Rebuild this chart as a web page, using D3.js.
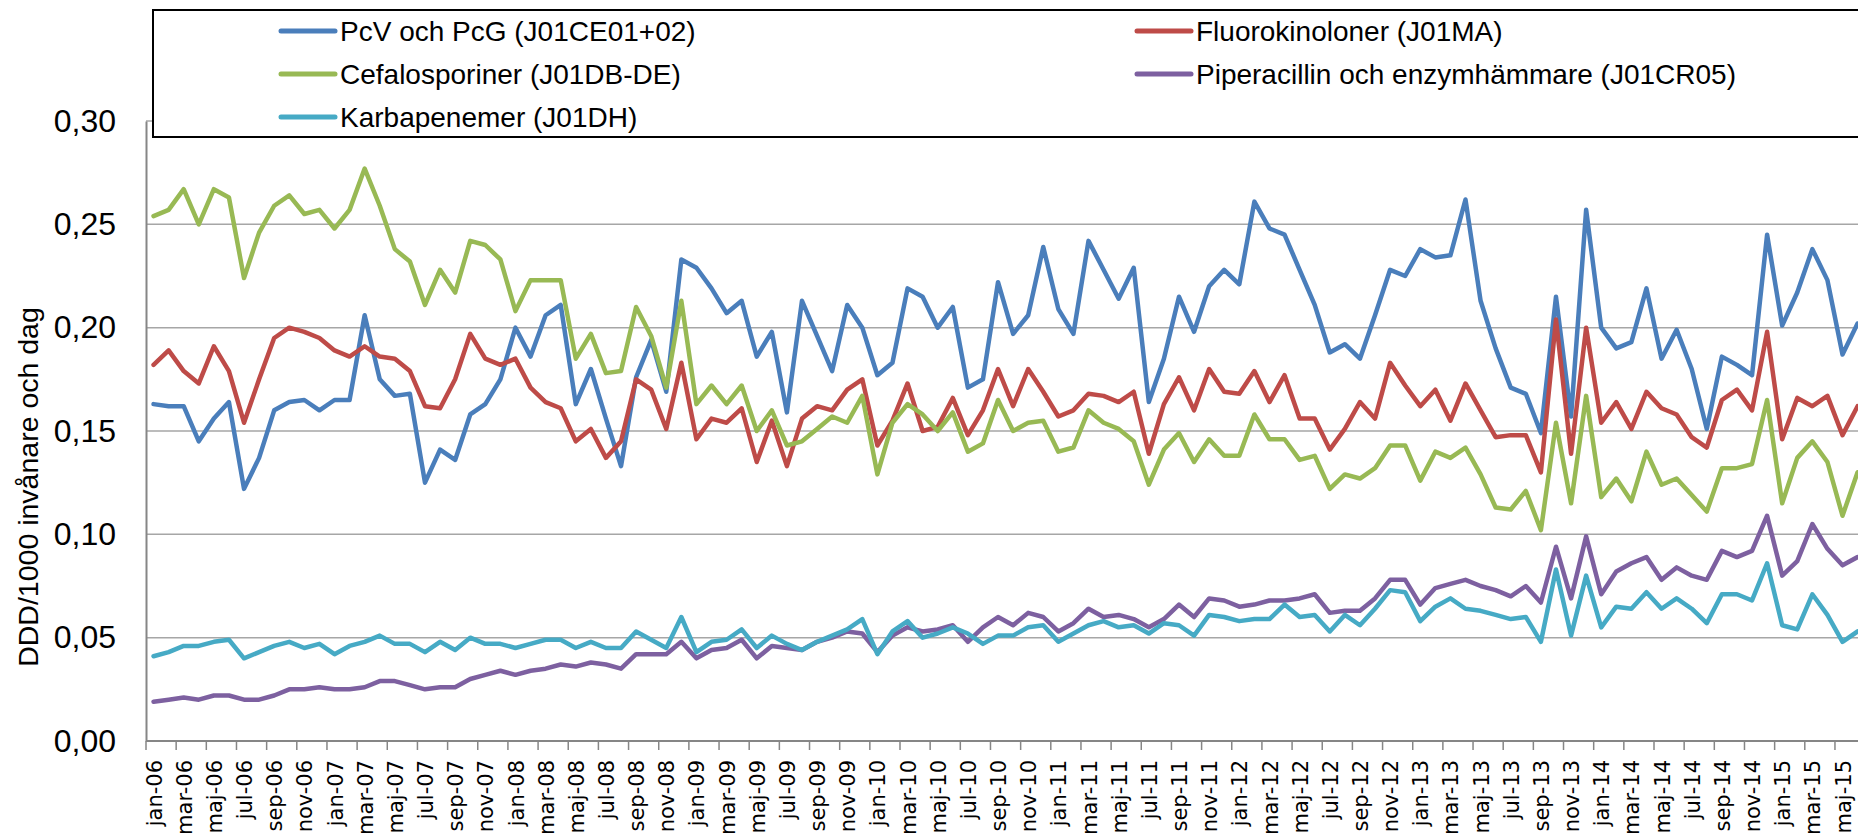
<!DOCTYPE html>
<html lang="sv">
  <head>
    <meta charset="UTF-8" />
    <title>DDD/1000 invånare och dag</title>
    <style>
      body {
        margin: 0;
        background: #fff;
      }
      svg {
        display: block;
      }
    </style>
  </head>
  <body>
    <svg id="svg" width="1858" height="833"></svg>
    <script src="https://cdn.jsdelivr.net/npm/d3@7"></script>
    <script>
      // CONSTANTS
      const WIDTH = 1858;
      const HEIGHT = 833;
      const PLOT_LEFT = 146;
      const STEP = 15.08;
      const PLOT_BOTTOM = 741;
      const PLOT_TOP = 121;

      // categories
      const monthNames = ["jan", "feb", "mar", "apr", "maj", "jun", "jul", "aug", "sep", "okt", "nov", "dec"];
      const years = ["06", "07", "08", "09", "10", "11", "12", "13", "14", "15"];
      const months = [];
      years.forEach((yy) => monthNames.forEach((m) => months.push(`${m}-${yy}`)));
      months.length = 114; // jan-06 .. jun-15 (right part is cut off)

      const yTicks = [0, 0.05, 0.1, 0.15, 0.2, 0.25, 0.3];

      // series values
      const pcv = [
        0.163, 0.162, 0.162, 0.145, 0.156, 0.164, 0.122, 0.137, 0.160, 0.164, 0.165, 0.160, 0.165, 0.165, 0.206, 0.175, 0.167, 0.168, 0.125, 0.141, 0.136, 0.158, 0.163, 0.175, 0.200, 0.186, 0.206, 0.211, 0.163,
        0.180, 0.156, 0.133, 0.176, 0.194, 0.169, 0.233, 0.229, 0.219, 0.207, 0.213, 0.186, 0.198, 0.159, 0.213, 0.196, 0.179, 0.211, 0.200, 0.177, 0.183, 0.219, 0.215, 0.200, 0.210, 0.171, 0.175, 0.222,
        0.197, 0.206, 0.239, 0.209, 0.197, 0.242, 0.228, 0.214, 0.229, 0.164, 0.185, 0.215, 0.198, 0.220, 0.228, 0.221, 0.261, 0.248, 0.245, 0.228, 0.211, 0.188, 0.192, 0.185, 0.206, 0.228, 0.225, 0.238, 0.234,
        0.235, 0.262, 0.213, 0.190, 0.171, 0.168, 0.149, 0.215, 0.157, 0.257, 0.200, 0.190, 0.193, 0.219, 0.185, 0.199, 0.180, 0.151, 0.186, 0.182, 0.177, 0.245, 0.201, 0.217, 0.238, 0.223, 0.187, 0.202,
      ];
      const fluoro = [
        0.182, 0.189, 0.179, 0.173, 0.191, 0.179, 0.154, 0.175, 0.195, 0.200, 0.198, 0.195, 0.189, 0.186, 0.191, 0.186, 0.185, 0.179, 0.162, 0.161, 0.175, 0.197, 0.185, 0.182, 0.185, 0.171, 0.164, 0.161, 0.145,
        0.151, 0.137, 0.145, 0.175, 0.170, 0.151, 0.183, 0.146, 0.156, 0.154, 0.161, 0.135, 0.155, 0.133, 0.156, 0.162, 0.160, 0.170, 0.175, 0.143, 0.155, 0.173, 0.150, 0.152, 0.166, 0.148, 0.160, 0.180,
        0.162, 0.180, 0.169, 0.157, 0.160, 0.168, 0.167, 0.164, 0.169, 0.139, 0.163, 0.176, 0.160, 0.180, 0.169, 0.168, 0.179, 0.164, 0.177, 0.156, 0.156, 0.141, 0.151, 0.164, 0.156, 0.183, 0.172, 0.162, 0.170,
        0.155, 0.173, 0.160, 0.147, 0.148, 0.148, 0.130, 0.204, 0.139, 0.200, 0.154, 0.164, 0.151, 0.169, 0.161, 0.158, 0.147, 0.142, 0.165, 0.170, 0.160, 0.198, 0.146, 0.166, 0.162, 0.167, 0.148, 0.162,
      ];
      const cefalo = [
        0.254, 0.257, 0.267, 0.250, 0.267, 0.263, 0.224, 0.246, 0.259, 0.264, 0.255, 0.257, 0.248, 0.257, 0.277, 0.259, 0.238, 0.232, 0.211, 0.228, 0.217, 0.242, 0.240, 0.233, 0.208, 0.223, 0.223, 0.223, 0.185,
        0.197, 0.178, 0.179, 0.210, 0.196, 0.171, 0.213, 0.163, 0.172, 0.163, 0.172, 0.150, 0.160, 0.143, 0.145, 0.151, 0.157, 0.154, 0.167, 0.129, 0.154, 0.163, 0.158, 0.150, 0.159, 0.140, 0.144, 0.165,
        0.150, 0.154, 0.155, 0.140, 0.142, 0.160, 0.154, 0.151, 0.145, 0.124, 0.141, 0.149, 0.135, 0.146, 0.138, 0.138, 0.158, 0.146, 0.146, 0.136, 0.138, 0.122, 0.129, 0.127, 0.132, 0.143, 0.143, 0.126, 0.140,
        0.137, 0.142, 0.129, 0.113, 0.112, 0.121, 0.102, 0.154, 0.115, 0.167, 0.118, 0.127, 0.116, 0.140, 0.124, 0.127, 0.119, 0.111, 0.132, 0.132, 0.134, 0.165, 0.115, 0.137, 0.145, 0.135, 0.109, 0.130,
      ];
      const pipera = [
        0.019, 0.020, 0.021, 0.020, 0.022, 0.022, 0.020, 0.020, 0.022, 0.025, 0.025, 0.026, 0.025, 0.025, 0.026, 0.029, 0.029, 0.027, 0.025, 0.026, 0.026, 0.030, 0.032, 0.034, 0.032, 0.034, 0.035, 0.037, 0.036,
        0.038, 0.037, 0.035, 0.042, 0.042, 0.042, 0.048, 0.040, 0.044, 0.045, 0.049, 0.040, 0.046, 0.045, 0.044, 0.048, 0.050, 0.053, 0.052, 0.043, 0.051, 0.055, 0.053, 0.054, 0.056, 0.048, 0.055, 0.060,
        0.056, 0.062, 0.060, 0.053, 0.057, 0.064, 0.060, 0.061, 0.059, 0.055, 0.059, 0.066, 0.060, 0.069, 0.068, 0.065, 0.066, 0.068, 0.068, 0.069, 0.071, 0.062, 0.063, 0.063, 0.069, 0.078, 0.078, 0.066, 0.074,
        0.076, 0.078, 0.075, 0.073, 0.070, 0.075, 0.067, 0.094, 0.069, 0.099, 0.071, 0.082, 0.086, 0.089, 0.078, 0.084, 0.080, 0.078, 0.092, 0.089, 0.092, 0.109, 0.080, 0.087, 0.105, 0.093, 0.085, 0.089,
      ];
      const karba = [
        0.041, 0.043, 0.046, 0.046, 0.048, 0.049, 0.040, 0.043, 0.046, 0.048, 0.045, 0.047, 0.042, 0.046, 0.048, 0.051, 0.047, 0.047, 0.043, 0.048, 0.044, 0.050, 0.047, 0.047, 0.045, 0.047, 0.049, 0.049, 0.045,
        0.048, 0.045, 0.045, 0.053, 0.049, 0.045, 0.060, 0.043, 0.048, 0.049, 0.054, 0.045, 0.051, 0.047, 0.044, 0.048, 0.051, 0.054, 0.059, 0.042, 0.053, 0.058, 0.050, 0.052, 0.055, 0.052, 0.047, 0.051,
        0.051, 0.055, 0.056, 0.048, 0.052, 0.056, 0.058, 0.055, 0.056, 0.052, 0.057, 0.056, 0.051, 0.061, 0.060, 0.058, 0.059, 0.059, 0.066, 0.060, 0.061, 0.053, 0.061, 0.056, 0.064, 0.073, 0.072, 0.058, 0.065,
        0.069, 0.064, 0.063, 0.061, 0.059, 0.060, 0.048, 0.083, 0.051, 0.080, 0.055, 0.065, 0.064, 0.072, 0.064, 0.069, 0.064, 0.057, 0.071, 0.071, 0.068, 0.086, 0.056, 0.054, 0.071, 0.061, 0.048, 0.053,
      ];

      const series = [
        { name: "PcV och PcG (J01CE01+02)", values: pcv, color: "#4a7ebb" },
        { name: "Fluorokinoloner (J01MA)", values: fluoro, color: "#be4b48" },
        { name: "Cefalosporiner (J01DB-DE)", values: cefalo, color: "#98b954" },
        { name: "Piperacillin och enzymhämmare (J01CR05)", values: pipera, color: "#7d60a0" },
        { name: "Karbapenemer (J01DH)", values: karba, color: "#46aac5" },
      ];

      const svLocale = d3.formatLocale({ decimal: ",", thousands: " ", grouping: [3], currency: ["", " kr"] });
      const fmt = svLocale.format(".2f");

      const svg = d3.select("#svg");

      // scales
      const x = d3
        .scalePoint()
        .domain(months)
        .range([PLOT_LEFT, PLOT_LEFT + STEP * months.length])
        .padding(0.5);
      const y = d3.scaleLinear().domain([0, 0.3]).range([PLOT_BOTTOM, PLOT_TOP]);

      // gridlines
      svg
        .append("g")
        .selectAll("line")
        .data(yTicks.slice(1))
        .enter()
        .append("line")
        .attr("x1", PLOT_LEFT)
        .attr("x2", WIDTH)
        .attr("y1", (d) => y(d))
        .attr("y2", (d) => y(d))
        .attr("stroke", "#a6a6a6")
        .attr("stroke-width", 1.5);

      // y axis
      const yAxis = svg
        .append("g")
        .attr("transform", `translate(${PLOT_LEFT},0)`)
        .call(d3.axisLeft(y).tickValues(yTicks).tickFormat(fmt).tickSize(0).tickPadding(30));
      yAxis.select(".domain").attr("stroke", "#868686").attr("stroke-width", 2);
      yAxis
        .selectAll("text")
        .style("font-family", "'Liberation Sans', Arial, sans-serif")
        .style("font-size", "32px")
        .attr("fill", "#000");

      // x axis: labels at every second month, tick marks between categories
      const labelMonths = months.filter((d, i) => i % 2 === 0);
      const xAxis = svg
        .append("g")
        .attr("transform", `translate(0,${PLOT_BOTTOM})`)
        .call(d3.axisBottom(x).tickValues(labelMonths).tickSize(0));
      xAxis.select(".domain").remove();
      xAxis
        .selectAll("text")
        .attr("transform", "rotate(-90)")
        .attr("x", -19)
        .attr("y", 0)
        .attr("dy", "0.36em")
        .attr("text-anchor", "end")
        .style("font-family", "'DejaVu Sans', Verdana, sans-serif")
        .style("font-size", "21px")
        .attr("fill", "#000");

      svg
        .append("line")
        .attr("x1", PLOT_LEFT)
        .attr("x2", WIDTH)
        .attr("y1", PLOT_BOTTOM)
        .attr("y2", PLOT_BOTTOM)
        .attr("stroke", "#868686")
        .attr("stroke-width", 2);

      svg
        .append("g")
        .selectAll("line")
        .data(labelMonths)
        .enter()
        .append("line")
        .attr("x1", (d) => x(d) - x.step() / 2)
        .attr("x2", (d) => x(d) - x.step() / 2)
        .attr("y1", PLOT_BOTTOM)
        .attr("y2", PLOT_BOTTOM + 9)
        .attr("stroke", "#868686")
        .attr("stroke-width", 1.5);

      // y axis title
      svg
        .append("text")
        .attr("transform", `translate(38,${(PLOT_TOP + PLOT_BOTTOM) / 2 + 56}) rotate(-90)`)
        .attr("text-anchor", "middle")
        .style("font-family", "'Liberation Sans', Arial, sans-serif")
        .style("font-size", "28.5px")
        .text("DDD/1000 invånare och dag");

      // lines
      const lineGen = d3
        .line()
        .x((d, i) => x(months[i]))
        .y((d) => y(d));

      svg
        .append("g")
        .selectAll("path")
        .data(series)
        .enter()
        .append("path")
        .attr("d", (d) => lineGen(d.values))
        .attr("fill", "none")
        .attr("stroke", (d) => d.color)
        .attr("stroke-width", 4.5)
        .attr("stroke-linejoin", "round")
        .attr("stroke-linecap", "round");

      // legend
      const legend = svg.append("g");
      legend
        .append("rect")
        .attr("x", 153)
        .attr("y", 10)
        .attr("width", WIDTH)
        .attr("height", 127)
        .attr("fill", "#fff")
        .attr("stroke", "#000")
        .attr("stroke-width", 2);

      const legendPos = [
        [281, 31],
        [1137, 31],
        [281, 74],
        [1137, 74],
        [281, 117],
      ];
      const items = legend
        .selectAll("g.item")
        .data(series)
        .enter()
        .append("g")
        .attr("class", "item")
        .attr("transform", (d, i) => `translate(${legendPos[i][0]},${legendPos[i][1]})`);
      items
        .append("line")
        .attr("x1", 0)
        .attr("x2", 54)
        .attr("stroke", (d) => d.color)
        .attr("stroke-width", 5)
        .attr("stroke-linecap", "round");
      items
        .append("text")
        .attr("x", 59)
        .attr("dy", "0.36em")
        .style("font-family", "'Liberation Sans', Arial, sans-serif")
        .style("font-size", "28px")
        .text((d) => d.name);
    </script>
  </body>
</html>
